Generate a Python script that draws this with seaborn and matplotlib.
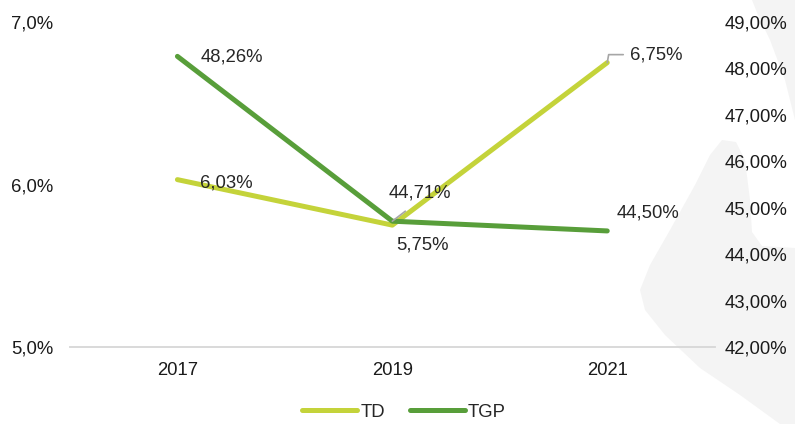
import seaborn as sns
import matplotlib.pyplot as plt
import pandas as pd
from matplotlib.patches import Polygon
from matplotlib.ticker import FuncFormatter

# dados
anos = ['2017', '2019', '2021']
td = [6.03, 5.75, 6.75]
tgp = [48.26, 44.71, 44.50]

cor_td = '#c4d33a'
cor_tgp = '#589e3a'

df = pd.DataFrame({'ano': anos, 'TD': td, 'TGP': tgp})

sns.set_style('white')
plt.rcParams['font.family'] = ['Liberation Sans', 'DejaVu Sans']
fs = 13.3
plt.rcParams['font.size'] = fs

fig = plt.figure(figsize=(7.95, 4.24), dpi=100)
ax = fig.add_axes([0.088, 0.1816, 0.811, 0.7665])
ax2 = ax.twinx()


# forma cinza decorativa no fundo (coordenadas em pixels, y para baixo)
def px(pts):
    return [(x / 795, 1 - y / 424) for x, y in pts]


blob1 = [(722, 140), (736, 142), (745, 160), (750, 200), (752, 232), (762, 246),
         (795, 248), (795, 424), (780, 424), (740, 395), (700, 368), (665, 335),
         (645, 310), (640, 290), (650, 265), (670, 230), (695, 185), (710, 155)]
blob2 = [(752, 0), (795, 0), (795, 120), (785, 80), (770, 40), (758, 15)]
for b in (blob1, blob2):
    fig.patches.append(Polygon(px(b), closed=True, transform=fig.transFigure,
                               facecolor='#f4f4f4', edgecolor='none', zorder=-10))

sns.lineplot(data=df, x='ano', y='TD', ax=ax, color=cor_td, linewidth=3.6,
             solid_capstyle='round', label='TD', legend=False)
sns.lineplot(data=df, x='ano', y='TGP', ax=ax2, color=cor_tgp, linewidth=3.6,
             solid_capstyle='round', label='TGP', legend=False)

ax.set_xlim(-0.5, 2.5)
ax.set_ylim(5, 7)
ax2.set_ylim(42, 49)
ax.set_yticks([5, 6, 7])
ax2.set_yticks(range(42, 50))
ax.yaxis.set_major_formatter(FuncFormatter(lambda v, p: f'{v:.1f}%'.replace('.', ',')))
ax2.yaxis.set_major_formatter(FuncFormatter(lambda v, p: f'{v:.2f}%'.replace('.', ',')))

ax.set_xlabel('')
ax.set_ylabel('')
ax2.set_ylabel('')
for a in (ax, ax2):
    for s in ['top', 'left', 'right']:
        a.spines[s].set_visible(False)
    a.spines['bottom'].set_color('#d9d9d9')
    a.spines['bottom'].set_linewidth(1.2)
    a.patch.set_visible(False)
ax.tick_params(axis='y', length=0, pad=12, labelsize=fs, colors='#1a1a1a')
ax2.tick_params(axis='y', length=0, pad=7, labelsize=fs, colors='#1a1a1a')
ax.tick_params(axis='x', length=0, pad=11, labelsize=fs, colors='#1a1a1a')

fmt = lambda v: f'{v:.2f}%'.replace('.', ',')
leader = dict(arrowstyle='-', color='#a6a6a6', lw=1.2, shrinkA=0, shrinkB=0)

# rótulos TD
ax.annotate(fmt(td[0]), (0, td[0]), xytext=(23, -3), textcoords='offset pixels',
            ha='left', va='center', fontsize=fs)
ax.annotate(fmt(td[1]), (1, td[1]), xytext=(30, -20), textcoords='offset pixels',
            ha='center', va='center', fontsize=fs)
ax.annotate(fmt(td[2]), (2, td[2]), xytext=(23, 8), textcoords='offset pixels',
            ha='left', va='center', fontsize=fs)
ax.annotate('', (2, td[2]), xytext=(16, 8), textcoords='offset pixels',
            arrowprops=dict(leader, connectionstyle='angle,angleA=0,angleB=80,rad=0'))

# rótulos TGP
ax2.annotate(fmt(tgp[0]), (0, tgp[0]), xytext=(23, -1), textcoords='offset pixels',
             ha='left', va='center', fontsize=fs)
ax2.annotate(fmt(tgp[1]), (1, tgp[1]), xytext=(28, 28), textcoords='offset pixels',
             ha='center', va='center', fontsize=fs)
ax2.annotate('', (1, tgp[1]), xytext=(13, 10), textcoords='offset pixels',
             arrowprops=leader)
ax2.annotate(fmt(tgp[2]), (2, tgp[2]), xytext=(9, 18), textcoords='offset pixels',
             ha='left', va='center', fontsize=fs)

h1, l1 = ax.get_legend_handles_labels()
h2, l2 = ax2.get_legend_handles_labels()
fig.legend(h1 + h2, l1 + l2, loc='lower center', bbox_to_anchor=(0.508, -0.032),
           ncol=2, frameon=False, fontsize=fs, handlelength=3.0,
           handletextpad=0.15, columnspacing=1.35)

plt.savefig('out.png', dpi=100)
